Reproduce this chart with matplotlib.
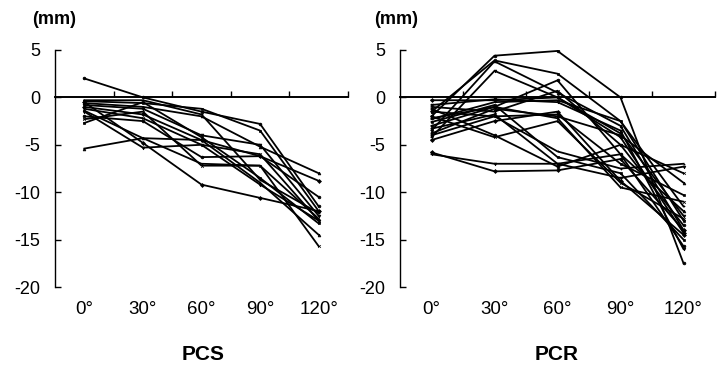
import matplotlib.pyplot as plt

plt.rcParams["font.family"] = ["Liberation Sans", "DejaVu Sans"]

ANGLE_LABELS = ["0°", "30°", "60°", "90°", "120°"]
ANGLE_POS = [0.5, 1.5, 2.5, 3.5, 4.5]
Y_TICKS = [5, 0, -5, -10, -15, -20]

# displacement (mm) per knee
PCS_LINES = [
    [2.0, 0.0, -1.5, -2.8, -11.5],
    [-0.4, -0.6, -1.2, -3.5, -12.0],
    [-0.6, -1.0, -2.0, -5.2, -8.0],
    [-0.8, -1.2, -4.0, -5.0, -12.5],
    [-1.0, -1.8, -4.5, -6.2, -8.8],
    [-1.2, -2.2, -5.0, -6.0, -13.0],
    [-1.4, -4.3, -7.0, -7.2, -12.8],
    [-2.0, -2.5, -6.3, -6.2, -10.5],
    [-2.7, -0.5, -4.2, -8.5, -13.3],
    [-5.4, -4.3, -4.5, -9.0, -14.5],
    [-1.5, -5.3, -5.0, -9.2, -13.0],
    [-0.5, -4.8, -9.2, -10.6, -12.0],
    [-2.3, -1.5, -7.2, -7.2, -15.7],
    [-0.3, -0.3, -1.8, -8.7, -12.2],
]

PCR_LINES = [
    [-2.0, 4.4, 4.9, 0.0, -17.5],
    [-1.5, 3.9, 2.5, -2.5, -13.0],
    [-3.5, 3.8, 0.5, -3.0, -14.0],
    [-4.2, 2.8, 0.0, -3.8, -12.5],
    [-0.3, -0.3, 0.0, -4.2, -14.3],
    [-1.0, -1.5, 0.7, -5.0, -8.0],
    [-2.3, -0.5, -0.3, -2.5, -11.5],
    [-3.0, -1.0, 1.8, -6.0, -15.7],
    [-1.5, -2.0, -1.8, -7.0, -10.3],
    [-3.8, -1.2, -2.0, -4.0, -9.0],
    [-6.0, -7.0, -7.0, -8.5, -7.3],
    [-5.8, -7.8, -7.7, -6.5, -14.0],
    [-2.0, -4.2, -2.5, -9.0, -12.8],
    [-4.0, -2.0, -5.7, -7.5, -7.0],
    [-1.2, -4.0, -7.3, -5.0, -13.5],
    [-2.6, -0.8, -6.3, -8.0, -15.0],
    [-3.3, -1.8, -7.0, -6.0, -12.0],
    [-0.8, -0.2, -0.5, -3.5, -16.0],
    [-4.5, -2.5, -1.5, -8.8, -14.5],
    [-2.2, -1.0, -2.2, -9.5, -11.0],
]

MARKERS = ["o", "s", "^", "v", "D", "x", "+"]


def draw_panel(ax, lines):
    for i, vals in enumerate(lines):
        ax.plot(ANGLE_POS, vals, color="black", linewidth=1.3,
                marker=MARKERS[i % len(MARKERS)], markersize=2,
                markerfacecolor="black", markeredgecolor="black",
                markeredgewidth=0.5)
    ax.set_xlim(0, 5)
    ax.set_ylim(-20, 5)
    ax.spines["top"].set_visible(False)
    ax.spines["right"].set_visible(False)
    ax.spines["bottom"].set_position(("data", 0))
    ax.spines["bottom"].set_linewidth(1.4)
    ax.spines["left"].set_linewidth(1.0)
    ax.set_xticks([1, 2, 3, 4, 5])
    ax.set_xticklabels([])
    ax.tick_params(axis="x", direction="in", length=4, width=1.0)
    ax.set_yticks(Y_TICKS)
    ax.set_yticklabels([str(t) for t in Y_TICKS], fontsize=13)
    ax.tick_params(axis="y", direction="in", length=4, width=1.0, pad=10.5)
    for x, lab in zip(ANGLE_POS, ANGLE_LABELS):
        ax.text(x, -22.4, lab, ha="center", va="center", fontsize=13.5,
                clip_on=False)


fig = plt.figure(figsize=(7.21, 3.73), dpi=100)
ax1 = fig.add_axes([55 / 721, 1 - 287 / 373, 293 / 721, 237 / 373])
ax2 = fig.add_axes([400 / 721, 1 - 287 / 373, 315 / 721, 237 / 373])

draw_panel(ax1, PCS_LINES)
draw_panel(ax2, PCR_LINES)

fig.text(32 / 721, 1 - 19 / 373, "(mm)", ha="left", va="center",
         fontsize=13, fontweight="bold")
fig.text(374 / 721, 1 - 19 / 373, "(mm)", ha="left", va="center",
         fontsize=13, fontweight="bold")
fig.text(203 / 721, 1 - 354 / 373, "PCS", ha="center", va="center",
         fontsize=15, fontweight="bold")
fig.text(557 / 721, 1 - 354 / 373, "PCR", ha="center", va="center",
         fontsize=15, fontweight="bold")

fig.savefig("out.png", dpi=100)
